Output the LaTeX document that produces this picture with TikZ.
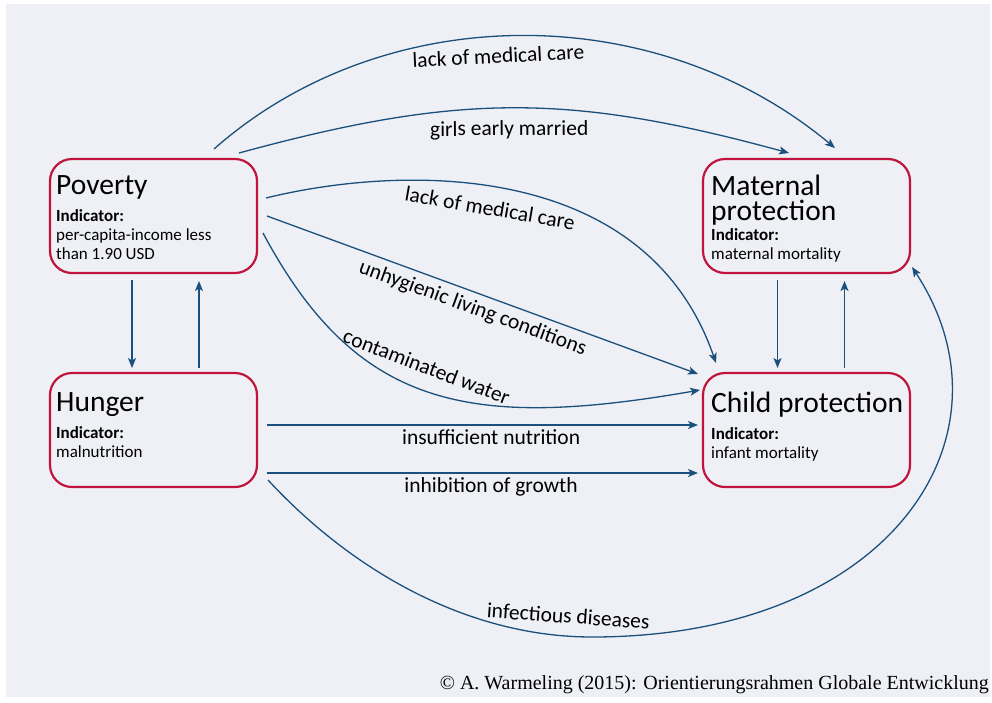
\documentclass[tikz,border=0pt]{standalone}
\usepackage{fontspec}
\setmainfont{Carlito}
\newfontfamily\creditfont{Liberation Serif}
\usetikzlibrary{arrows.meta}

\definecolor{boxred}{HTML}{C0143C}
\definecolor{linkblue}{HTML}{1B4F7C}
\definecolor{panelgray}{HTML}{EEF0F5}

\tikzset{
  topic/.style={draw=boxred, line width=2.2pt, rounded corners=22pt,
    minimum width=207pt, minimum height=114pt, inner sep=0pt, outer sep=0pt},
  topictext/.style={anchor=north west, inner sep=0pt, align=left,
    font=\fontsize{17}{19}\selectfont},
  link/.style={draw=linkblue, line width=1.3pt,
    -{Stealth[length=10pt,width=8pt,inset=2.5pt]}},
  linklabel/.style={font=\fontsize{21.5}{24}\selectfont, inner sep=2pt, sloped},
}
\newcommand{\topictitle}[1]{{\fontsize{29.5}{26}\selectfont #1}}

\begin{document}
\begin{tikzpicture}[x=1pt,y=-1pt]
    \useasboundingbox (0,0) rectangle (992,702);
    \fill[panelgray] (6,4) rectangle (990,697);

    % the four topics
    \node[topic] at (153.5,216) (pov) {};
    \node[topic] at (806.5,216) (mat) {};
    \node[topic] at (153.5,430) (hun) {};
    \node[topic] at (806.5,430) (chi) {};

    \node[topictext] at ([shift={(6,16.5)}]pov.north west) (povtext)
      {\topictitle{Poverty}\\[8pt] \textbf{Indicator:}\\ per-capita-income less\\ than 1.90 USD};
    \node[topictext] at ([shift={(8,15.5)}]mat.north west) (mattext)
      {\topictitle{Maternal}\\[3.4pt] \topictitle{protection}\\[1.5pt] \textbf{Indicator:}\\ maternal mortality};
    \node[topictext] at ([shift={(6,19)}]hun.north west) (huntext)
      {\topictitle{Hunger}\\[8pt] \textbf{Indicator:}\\ malnutrition};
    \node[topictext] at ([shift={(8,19)}]chi.north west) (chitext)
      {\topictitle{Child protection}\\[8pt] \textbf{Indicator:}\\ infant mortality};

    % poverty <-> hunger, maternal <-> child
    \draw[link] ([shift={(-21.5,7)}]pov.south) -- ([shift={(-21.5,-5)}]hun.north);
    \draw[link] ([shift={(45.5,-5)}]hun.north) -- ([shift={(45.5,8)}]pov.south);
    \draw[link] ([shift={(-29,7)}]mat.south) -- ([shift={(-29,-5)}]chi.north);
    \draw[link] ([shift={(38,-5)}]chi.north) -- ([shift={(38,8)}]mat.south);

    % poverty -> maternal
    \draw[link] ([shift={(60.5,-10)}]pov.north) .. controls +(170,-150) and +(-180,-150) .. ([shift={(28.5,-11)}]mat.north)
      node[linklabel, pos=0.465, below=9pt] {lack of medical care};
    \draw[link] ([shift={(85.5,-6)}]pov.north) .. controls +(220,-60) and +(-220,-60) .. ([shift={(-17.5,-6)}]mat.north)
      node[linklabel, pos=0.49, below=10pt] {girls early married};

    % poverty -> child
    \draw[link] ([shift={(9,-18)}]pov.east) .. controls +(134,-33) and +(-71,-205) .. ([shift={(13,-10)}]chi.north west)
      node[linklabel, pos=0.46, below=11pt] {lack of medical care};
    \draw[link] ([shift={(10,0)}]pov.east) -- ([shift={(-5,1)}]chi.north west)
      node[linklabel, pos=0.49, below=4pt] {unhygienic living conditions};
    \draw[link] ([shift={(6,17)}]pov.east) .. controls +(94,176) and +(-230,40) .. ([shift={(-3,-40)}]chi.west)
      node[linklabel, pos=0.47, above=13pt] {contaminated water};

    % hunger -> child, hunger -> maternal
    \draw[link] ([shift={(10,-5)}]hun.east) -- ([shift={(-5,-5)}]chi.west)
      node[linklabel, pos=0.52, below=2pt] {insufficient nutrition};
    \draw[link] ([shift={(10,43)}]hun.east) -- ([shift={(-5,43)}]chi.west)
      node[linklabel, pos=0.52, below=2pt] {inhibition of growth};
    \coordinate (infbottom) at (592,637);
    \draw[link] ([shift={(11,50)}]hun.east) .. controls +(88,95) and +(-120,0) .. (infbottom)
      node[linklabel, pos=0.93, above=10pt] {infectious diseases}
      .. controls +(300,0) and +(110,168) .. ([shift={(2,-6)}]mat.south east);

    \node[anchor=base east, inner sep=0pt, font=\creditfont\fontsize{20}{22}\selectfont] at (989,689) (credit)
      {© A. Warmeling (2015): Orientierungsrahmen Globale Entwicklung};
\end{tikzpicture}
\end{document}
